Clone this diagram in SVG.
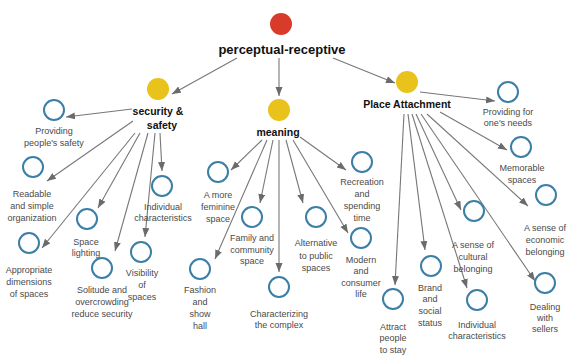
<svg xmlns="http://www.w3.org/2000/svg" width="571" height="358" viewBox="0 0 571 358">
  <style>
    .root { fill: #d93b2b; }
    .hub { fill: #e9c21c; }
    .leaf { fill: #ffffff; stroke: #3b7ea6; stroke-width: 2; }
    .head { font-family: "Liberation Sans", Arial, sans-serif; font-weight: bold; fill: #111111; text-anchor: middle; }
    .lbl { font-family: "Liberation Sans", Arial, sans-serif; font-size: 9px; fill: #4a4a4a; text-anchor: middle; }
    .edge { stroke: #777777; stroke-width: 1.1; fill: none; marker-end: url(#arrow); }
  </style>
  <defs>
    <marker id="arrow" markerUnits="userSpaceOnUse" markerWidth="10" markerHeight="8" refX="9" refY="3.5" orient="auto">
      <path d="M0,0 L9,3.5 L0,7 Z" fill="#6b6b6b"/>
    </marker>
  </defs>
  <rect width="571" height="358" fill="#ffffff"/>

  <!-- connectors -->
  <g id="connectors">
    <line class="edge" x1="237" y1="58" x2="172" y2="94"/>
    <line class="edge" x1="279" y1="58" x2="279" y2="96"/>
    <line class="edge" x1="333" y1="58" x2="395" y2="83"/>

    <line class="edge" x1="132" y1="109" x2="66" y2="117"/>
    <line class="edge" x1="133" y1="121" x2="47" y2="181"/>
    <line class="edge" x1="135" y1="133" x2="42" y2="248"/>
    <line class="edge" x1="140" y1="133" x2="98" y2="208"/>
    <line class="edge" x1="148" y1="133" x2="115" y2="251"/>
    <line class="edge" x1="155" y1="133" x2="145" y2="237"/>
    <line class="edge" x1="160" y1="133" x2="162" y2="171"/>

    <line class="edge" x1="262" y1="140" x2="231" y2="170"/>
    <line class="edge" x1="267" y1="140" x2="215" y2="259"/>
    <line class="edge" x1="273" y1="140" x2="260" y2="203"/>
    <line class="edge" x1="279" y1="140" x2="279" y2="272"/>
    <line class="edge" x1="286" y1="140" x2="303" y2="203"/>
    <line class="edge" x1="293" y1="140" x2="348" y2="233"/>
    <line class="edge" x1="300" y1="137" x2="346" y2="170"/>

    <line class="edge" x1="420" y1="92" x2="495" y2="101"/>
    <line class="edge" x1="440" y1="112" x2="507" y2="150"/>
    <line class="edge" x1="427" y1="114" x2="528" y2="206"/>
    <line class="edge" x1="421" y1="114" x2="535" y2="281"/>
    <line class="edge" x1="416" y1="114" x2="461" y2="210"/>
    <line class="edge" x1="412" y1="114" x2="467" y2="288"/>
    <line class="edge" x1="408" y1="114" x2="425" y2="250"/>
    <line class="edge" x1="404" y1="114" x2="395" y2="285"/>
  </g>

  <!-- top concept -->
  <g id="perceptual-receptive">
    <circle class="root" cx="281" cy="24" r="11"/>
    <text class="head" x="282" y="54" font-size="13">perceptual-receptive</text>
  </g>

  <!-- second level -->
  <g id="security-safety">
    <circle class="hub" cx="158" cy="89" r="11"/>
    <text class="head" x="158" y="115" font-size="10.5">security &amp;</text>
    <text class="head" x="162" y="129" font-size="10.5">safety</text>
  </g>
  <g id="meaning">
    <circle class="hub" cx="279" cy="110" r="11"/>
    <text class="head" x="278" y="136" font-size="10.5">meaning</text>
  </g>
  <g id="place-attachment">
    <circle class="hub" cx="407" cy="82" r="11"/>
    <text class="head" x="407" y="108" font-size="10.5">Place Attachment</text>
  </g>

  <!-- security & safety items -->
  <g id="providing-safety">
    <circle class="leaf" cx="54" cy="110" r="10"/>
    <text class="lbl" x="54" y="134">Providing</text>
    <text class="lbl" x="54" y="146">people's safety</text>
  </g>
  <g id="readable">
    <circle class="leaf" cx="33" cy="167" r="10"/>
    <text class="lbl" x="32" y="197">Readable</text>
    <text class="lbl" x="32" y="209">and simple</text>
    <text class="lbl" x="32" y="221">organization</text>
  </g>
  <g id="dimensions">
    <circle class="leaf" cx="29" cy="243" r="10"/>
    <text class="lbl" x="29" y="273">Appropriate</text>
    <text class="lbl" x="29" y="285">dimensions</text>
    <text class="lbl" x="29" y="297">of spaces</text>
  </g>
  <g id="lighting">
    <circle class="leaf" cx="87" cy="219" r="10"/>
    <text class="lbl" x="86" y="245">Space</text>
    <text class="lbl" x="86" y="256">lighting</text>
  </g>
  <g id="solitude">
    <circle class="leaf" cx="102" cy="268" r="10"/>
    <text class="lbl" x="102" y="293">Solitude and</text>
    <text class="lbl" x="102" y="305">overcrowding</text>
    <text class="lbl" x="102" y="317">reduce security</text>
  </g>
  <g id="visibility">
    <circle class="leaf" cx="141" cy="252" r="10"/>
    <text class="lbl" x="142" y="276">Visibility</text>
    <text class="lbl" x="142" y="288">of</text>
    <text class="lbl" x="142" y="300">spaces</text>
  </g>
  <g id="individual-safety">
    <circle class="leaf" cx="162" cy="186" r="10"/>
    <text class="lbl" x="163" y="210">Individual</text>
    <text class="lbl" x="163" y="221">characteristics</text>
  </g>

  <!-- meaning items -->
  <g id="feminine">
    <circle class="leaf" cx="218" cy="172" r="10"/>
    <text class="lbl" x="218" y="198">A more</text>
    <text class="lbl" x="218" y="210">feminine</text>
    <text class="lbl" x="218" y="222">space</text>
  </g>
  <g id="family">
    <circle class="leaf" cx="252" cy="217" r="10"/>
    <text class="lbl" x="252" y="241">Family and</text>
    <text class="lbl" x="252" y="253">community</text>
    <text class="lbl" x="252" y="264">space</text>
  </g>
  <g id="fashion">
    <circle class="leaf" cx="200" cy="269" r="10"/>
    <text class="lbl" x="200" y="293">Fashion</text>
    <text class="lbl" x="200" y="305">and</text>
    <text class="lbl" x="200" y="317">show</text>
    <text class="lbl" x="200" y="329">hall</text>
  </g>
  <g id="characterizing">
    <circle class="leaf" cx="279" cy="287" r="10"/>
    <text class="lbl" x="279" y="317">Characterizing</text>
    <text class="lbl" x="279" y="328">the complex</text>
  </g>
  <g id="alternative">
    <circle class="leaf" cx="316" cy="217" r="10"/>
    <text class="lbl" x="316" y="246">Alternative</text>
    <text class="lbl" x="316" y="259">to public</text>
    <text class="lbl" x="316" y="271">spaces</text>
  </g>
  <g id="modern">
    <circle class="leaf" cx="361" cy="238" r="10"/>
    <text class="lbl" x="361" y="263">Modern</text>
    <text class="lbl" x="361" y="274">and</text>
    <text class="lbl" x="361" y="286">consumer</text>
    <text class="lbl" x="361" y="297">life</text>
  </g>
  <g id="recreation">
    <circle class="leaf" cx="362" cy="162" r="10"/>
    <text class="lbl" x="362" y="185">Recreation</text>
    <text class="lbl" x="362" y="197">and</text>
    <text class="lbl" x="362" y="209">spending</text>
    <text class="lbl" x="362" y="221">time</text>
  </g>

  <!-- place attachment items -->
  <g id="needs">
    <circle class="leaf" cx="508" cy="92" r="10"/>
    <text class="lbl" x="508" y="115">Providing for</text>
    <text class="lbl" x="508" y="126">one's needs</text>
  </g>
  <g id="memorable">
    <circle class="leaf" cx="521" cy="147" r="10"/>
    <text class="lbl" x="522" y="171">Memorable</text>
    <text class="lbl" x="522" y="183">spaces</text>
  </g>
  <g id="economic">
    <circle class="leaf" cx="546" cy="195" r="10"/>
    <text class="lbl" x="545" y="231">A sense of</text>
    <text class="lbl" x="545" y="243">economic</text>
    <text class="lbl" x="545" y="255">belonging</text>
  </g>
  <g id="dealing">
    <circle class="leaf" cx="545" cy="283" r="10"/>
    <text class="lbl" x="545" y="310">Dealing</text>
    <text class="lbl" x="545" y="321">with</text>
    <text class="lbl" x="545" y="332">sellers</text>
  </g>
  <g id="cultural">
    <circle class="leaf" cx="474" cy="211" r="10"/>
    <text class="lbl" x="473" y="248">A sense of</text>
    <text class="lbl" x="473" y="260">cultural</text>
    <text class="lbl" x="473" y="272">belonging</text>
  </g>
  <g id="individual-place">
    <circle class="leaf" cx="477" cy="300" r="10"/>
    <text class="lbl" x="477" y="328">Individual</text>
    <text class="lbl" x="477" y="339">characteristics</text>
  </g>
  <g id="brand">
    <circle class="leaf" cx="431" cy="266" r="10"/>
    <text class="lbl" x="430" y="291">Brand</text>
    <text class="lbl" x="430" y="302">and</text>
    <text class="lbl" x="430" y="314">social</text>
    <text class="lbl" x="430" y="326">status</text>
  </g>
  <g id="attract">
    <circle class="leaf" cx="393" cy="299" r="10"/>
    <text class="lbl" x="393" y="330">Attract</text>
    <text class="lbl" x="393" y="341">people</text>
    <text class="lbl" x="393" y="353">to stay</text>
  </g>
</svg>
